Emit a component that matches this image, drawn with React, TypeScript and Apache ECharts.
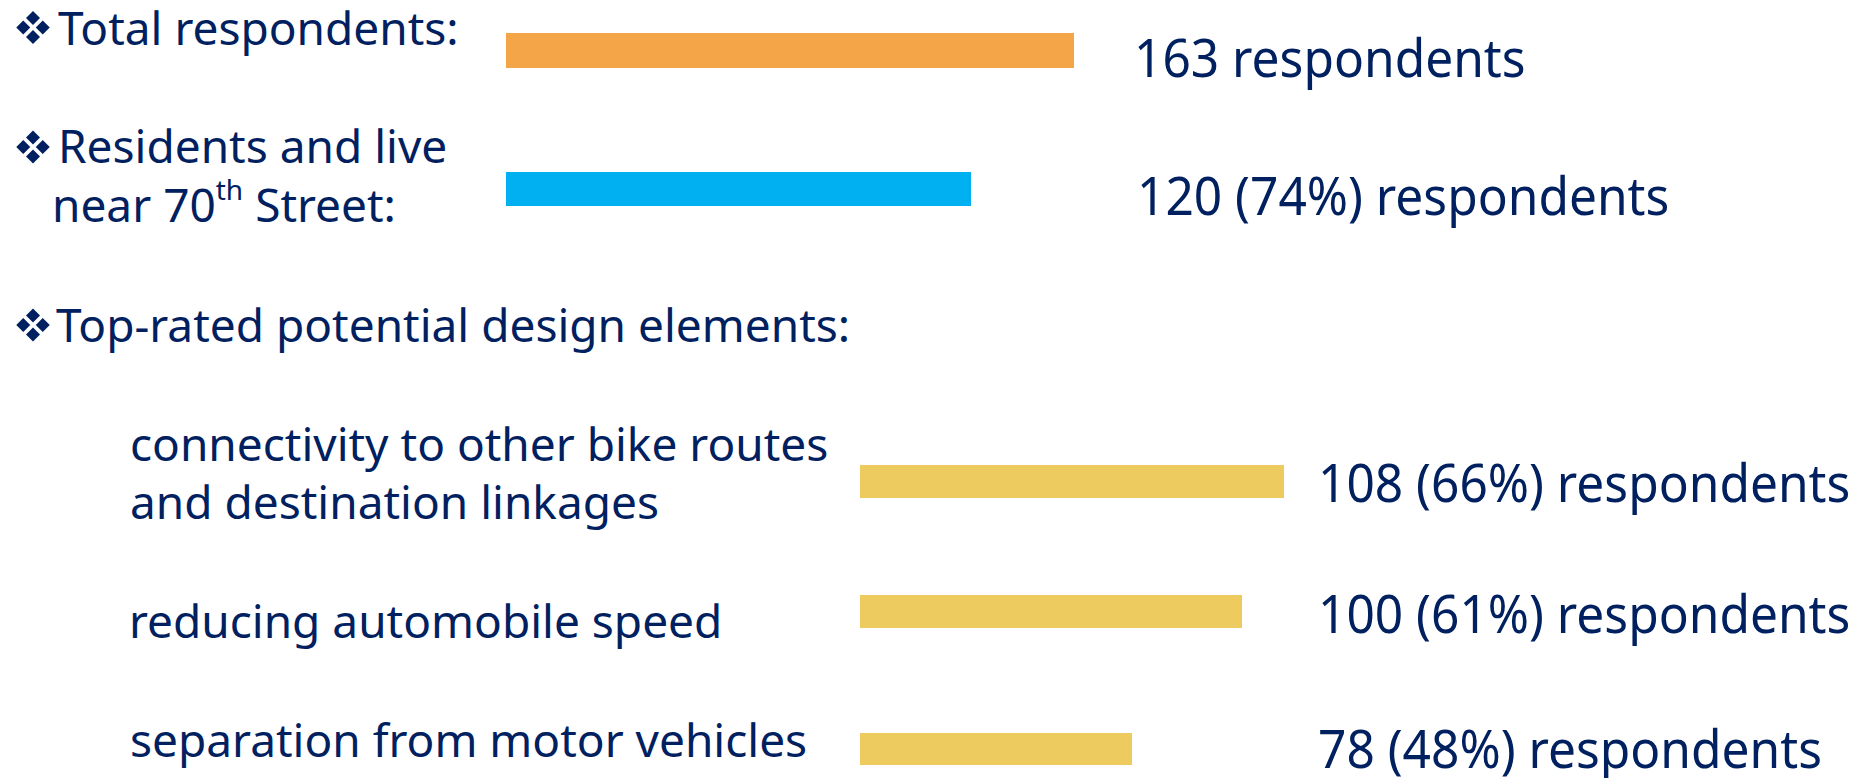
import React, { useEffect, useRef } from "react";
import * as echarts from "echarts";

// ---------- data ----------
const summaryCategories = ["Total respondents", "Residents and live near 70th Street"];
const summaryValues = [163, 120];
const summaryShares: (number | null)[] = [null, 74];

const sectionTitle = "Top-rated potential design elements:";
const designCategories = [
  "connectivity to other bike routes\nand destination linkages",
  "reducing automobile speed",
  "separation from motor vehicles",
];
const designValues = [108, 100, 78];
const designShares = [66, 61, 48];
const unitLabel = "respondents";

// ---------- styles / layout ----------
const TEXT = "#002060";
const SUMMARY_COLORS = ["#F3A548", "#00B0F0"];
const DESIGN_COLOR = "#EDCB5F";
const FONT = '"Noto Sans", "DejaVu Sans", sans-serif';
const FS_L = 46;
const FS_V = 53;
const VAL_SCALE = 0.937;

const summaryBarBoxes = [
  { left: 506, top: 33, width: 568, height: 35 },
  { left: 506, top: 172, width: 465, height: 34 },
];
const designBarBoxes = [
  { left: 860, top: 465, width: 424, height: 33 },
  { left: 860, top: 595, width: 382, height: 33 },
  { left: 860, top: 733, width: 272, height: 32 },
];
const summaryValueX = [1134, 1137];
const summaryValueY = [56.4, 194.4];
const designValueY = [481.4, 612.4, 747.4];

function valueText(v: number, s: number | null) {
  return s == null ? `${v} ${unitLabel}` : `${v} (${s}%) ${unitLabel}`;
}

function diamond(cx: number, cy: number, r: number) {
  return {
    type: "polygon",
    silent: true,
    shape: { points: [[cx, cy - r], [cx + r, cy], [cx, cy + r], [cx - r, cy]] },
    style: { fill: TEXT },
  };
}
function bullet(cx: number, cy: number) {
  return [
    [0, -9.5],
    [-9.75, 0],
    [9.75, 0],
    [0, 9.5],
  ].map(([dx, dy]) => diamond(cx + dx, cy + dy, 7));
}

function txt(x: number, y: number, text: string, fs: number, extra: any = {}, scaleX = 1) {
  return {
    type: "text",
    x,
    y,
    scaleX,
    silent: true,
    style: {
      x: 0,
      y: 0,
      text,
      fill: TEXT,
      fontSize: fs,
      fontFamily: FONT,
      align: "left",
      verticalAlign: "middle",
      ...extra,
    },
  };
}

export default function App() {
  const ref = useRef<HTMLDivElement>(null);
  useEffect(() => {
    if (!ref.current) return;
    const chart = echarts.init(ref.current, null, { renderer: "svg" });

    const boxes = [...summaryBarBoxes, ...designBarBoxes];
    const cats = [...summaryCategories, ...designCategories];
    const vals = [...summaryValues, ...designValues];
    const colors = [...SUMMARY_COLORS, DESIGN_COLOR, DESIGN_COLOR, DESIGN_COLOR];

    const grid = boxes.map((b) => ({ ...b, containLabel: false, show: false }));
    const xAxis = vals.map((v, i) => ({
      type: "value",
      gridIndex: i,
      min: 0,
      max: v,
      show: false,
    }));
    const yAxis = cats.map((c, i) => ({
      type: "category",
      gridIndex: i,
      data: [c],
      show: false,
    }));
    const series = vals.map((v, i) => ({
      type: "bar",
      name: cats[i],
      xAxisIndex: i,
      yAxisIndex: i,
      data: [v],
      barWidth: "100%",
      silent: true,
      itemStyle: { color: colors[i] },
    }));

    const graphic: any[] = [
      ...bullet(33, 27.5),
      ...bullet(33, 147),
      ...bullet(33, 325),
      txt(58, 27.2, "Total respondents:", FS_L),
      txt(58, 115.7, "Residents and live", FS_L, { verticalAlign: "top", lineHeight: 59 }),
      txt(52, 174.7, "near 70{sup|th} Street:", FS_L, {
        verticalAlign: "top",
        lineHeight: 59,
        rich: {
          sup: { fontSize: 28, fontFamily: FONT, fill: TEXT, verticalAlign: "top", lineHeight: 43 },
        },
      }),
      txt(56, 324.2, sectionTitle, FS_L),
      txt(130, 414.2, designCategories[0], FS_L, { verticalAlign: "top", lineHeight: 58 }),
      txt(129, 620.2, designCategories[1], FS_L),
      txt(130, 739.2, designCategories[2], FS_L),
      ...summaryValues.map((v, i) =>
        txt(summaryValueX[i], summaryValueY[i], valueText(v, summaryShares[i]), FS_V, {}, VAL_SCALE)
      ),
      ...designValues.map((v, i) =>
        txt(1318, designValueY[i], valueText(v, designShares[i]), FS_V, {}, VAL_SCALE)
      ),
    ];

    chart.setOption({
      animation: false,
      backgroundColor: "#ffffff",
      grid,
      xAxis,
      yAxis,
      series,
      graphic,
    });
    return () => chart.dispose();
  }, []);

  return (
    <div
      ref={ref}
      style={{ position: "fixed", left: 0, top: 0, width: 1860, height: 778, background: "#fff" }}
    />
  );
}
